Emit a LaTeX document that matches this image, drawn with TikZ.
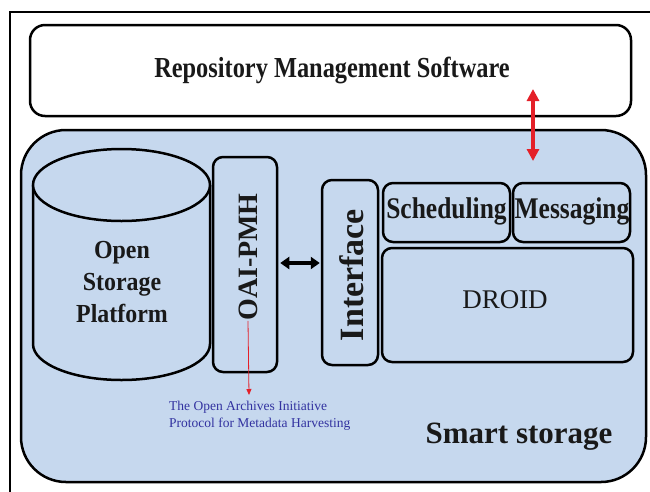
\documentclass[tikz,border=0pt]{standalone}
\usepackage{fontspec}
\setmainfont{Liberation Serif}
\usetikzlibrary{arrows.meta}
\definecolor{panel}{RGB}{198,216,238}
\definecolor{redarrow}{RGB}{228,32,40}
\definecolor{noteblue}{RGB}{50,50,160}
\begin{document}
\begin{tikzpicture}[x=1pt,y=-1pt,
  box/.style={draw=black, line width=2.5pt, rounded corners=10pt, inner sep=0pt},
  txt/.style={inner sep=0pt, text=black!90}]
\useasboundingbox (0,0) rectangle (650,491);
\fill[white] (0,0) rectangle (650,491);
\draw[line width=1.5pt] (10,495) |- (655,12);

% top box
\node[box, rounded corners=15pt, minimum width=601pt, minimum height=91pt] (rms) at (330.5,70.5) {};
\node[txt, font=\bfseries\fontsize{29}{33}\selectfont, xscale=0.84] (rmstxt) at (332,70) {Repository Management Software};

% smart storage panel
\node[box, fill=panel, rounded corners=45pt, minimum width=625pt, minimum height=352pt] (smart) at (333.5,306) {};
\node[txt, font=\bfseries\fontsize{31}{35}\selectfont] (smarttxt) at (519,437) {Smart storage};

% cylinder
\draw[line width=2.5pt, fill=panel] (33,185) -- (33,344) arc[start angle=180, end angle=360, x radius=88.5pt, y radius=36pt] -- (210,185);
\draw[line width=2.5pt, fill=panel] (121.5,185) ellipse[x radius=88.5pt, y radius=36pt];
\node[txt, align=center, font=\bfseries\fontsize{26}{32}\selectfont, xscale=0.92] (osp) at (122,282) {Open\\Storage\\Platform};

% OAI-PMH
\node[box, minimum width=64pt, minimum height=215pt] (oai) at (245,264.5) {};
\node[txt, rotate=90, font=\bfseries\fontsize{28}{32}\selectfont] (oaitxt) at (248,257) {OAI-PMH};

% Interface
\node[box, minimum width=56pt, minimum height=185pt] (iface) at (350,272.5) {};
\node[txt, rotate=90, font=\bfseries\fontsize{34}{38}\selectfont] (ifacetxt) at (352,275) {Interface};

% Scheduling / Messaging / DROID
\node[box, minimum width=127pt, minimum height=59pt] (sched) at (446.5,212.5) {};
\node[txt, font=\bfseries\fontsize{30}{34}\selectfont, xscale=0.85] (schedtxt) at (446.5,211) {Scheduling};
\node[box, minimum width=117pt, minimum height=59pt] (msg) at (571.5,212.5) {};
\node[txt, font=\bfseries\fontsize{30}{34}\selectfont, xscale=0.85] (msgtxt) at (572,211) {Messaging};
\node[box, minimum width=251pt, minimum height=114pt] (droid) at (507.5,305) {};
\node[txt, font=\fontsize{27}{31}\selectfont] (droidtxt) at (505,300) {DROID};

% connectors
\coordinate (ra1) at (533,89);
\coordinate (ra2) at (533,161);
\draw[redarrow, line width=3.2pt, {Triangle[width=12pt,length=12pt]}-{Triangle[width=12pt,length=12pt]}] (ra1) -- (ra2);

\draw[black, line width=3.2pt, {Triangle[width=12pt,length=9pt]}-{Triangle[width=12pt,length=9pt]}, shorten <=2pt, shorten >=1pt] (oai.east |- 0,263) -- (iface.west |- 0,263);

\coordinate (noteend) at (249,395);
\draw[redarrow, line width=0.8pt, -{Triangle[width=5pt,length=6pt]}] (oaitxt.west) -- (noteend);

\node[txt, anchor=north west, align=left, text=noteblue, font=\fontsize{13.5}{17}\selectfont] (note) at (169,401) {The Open Archives Initiative\\Protocol for Metadata Harvesting};
\end{tikzpicture}
\end{document}
